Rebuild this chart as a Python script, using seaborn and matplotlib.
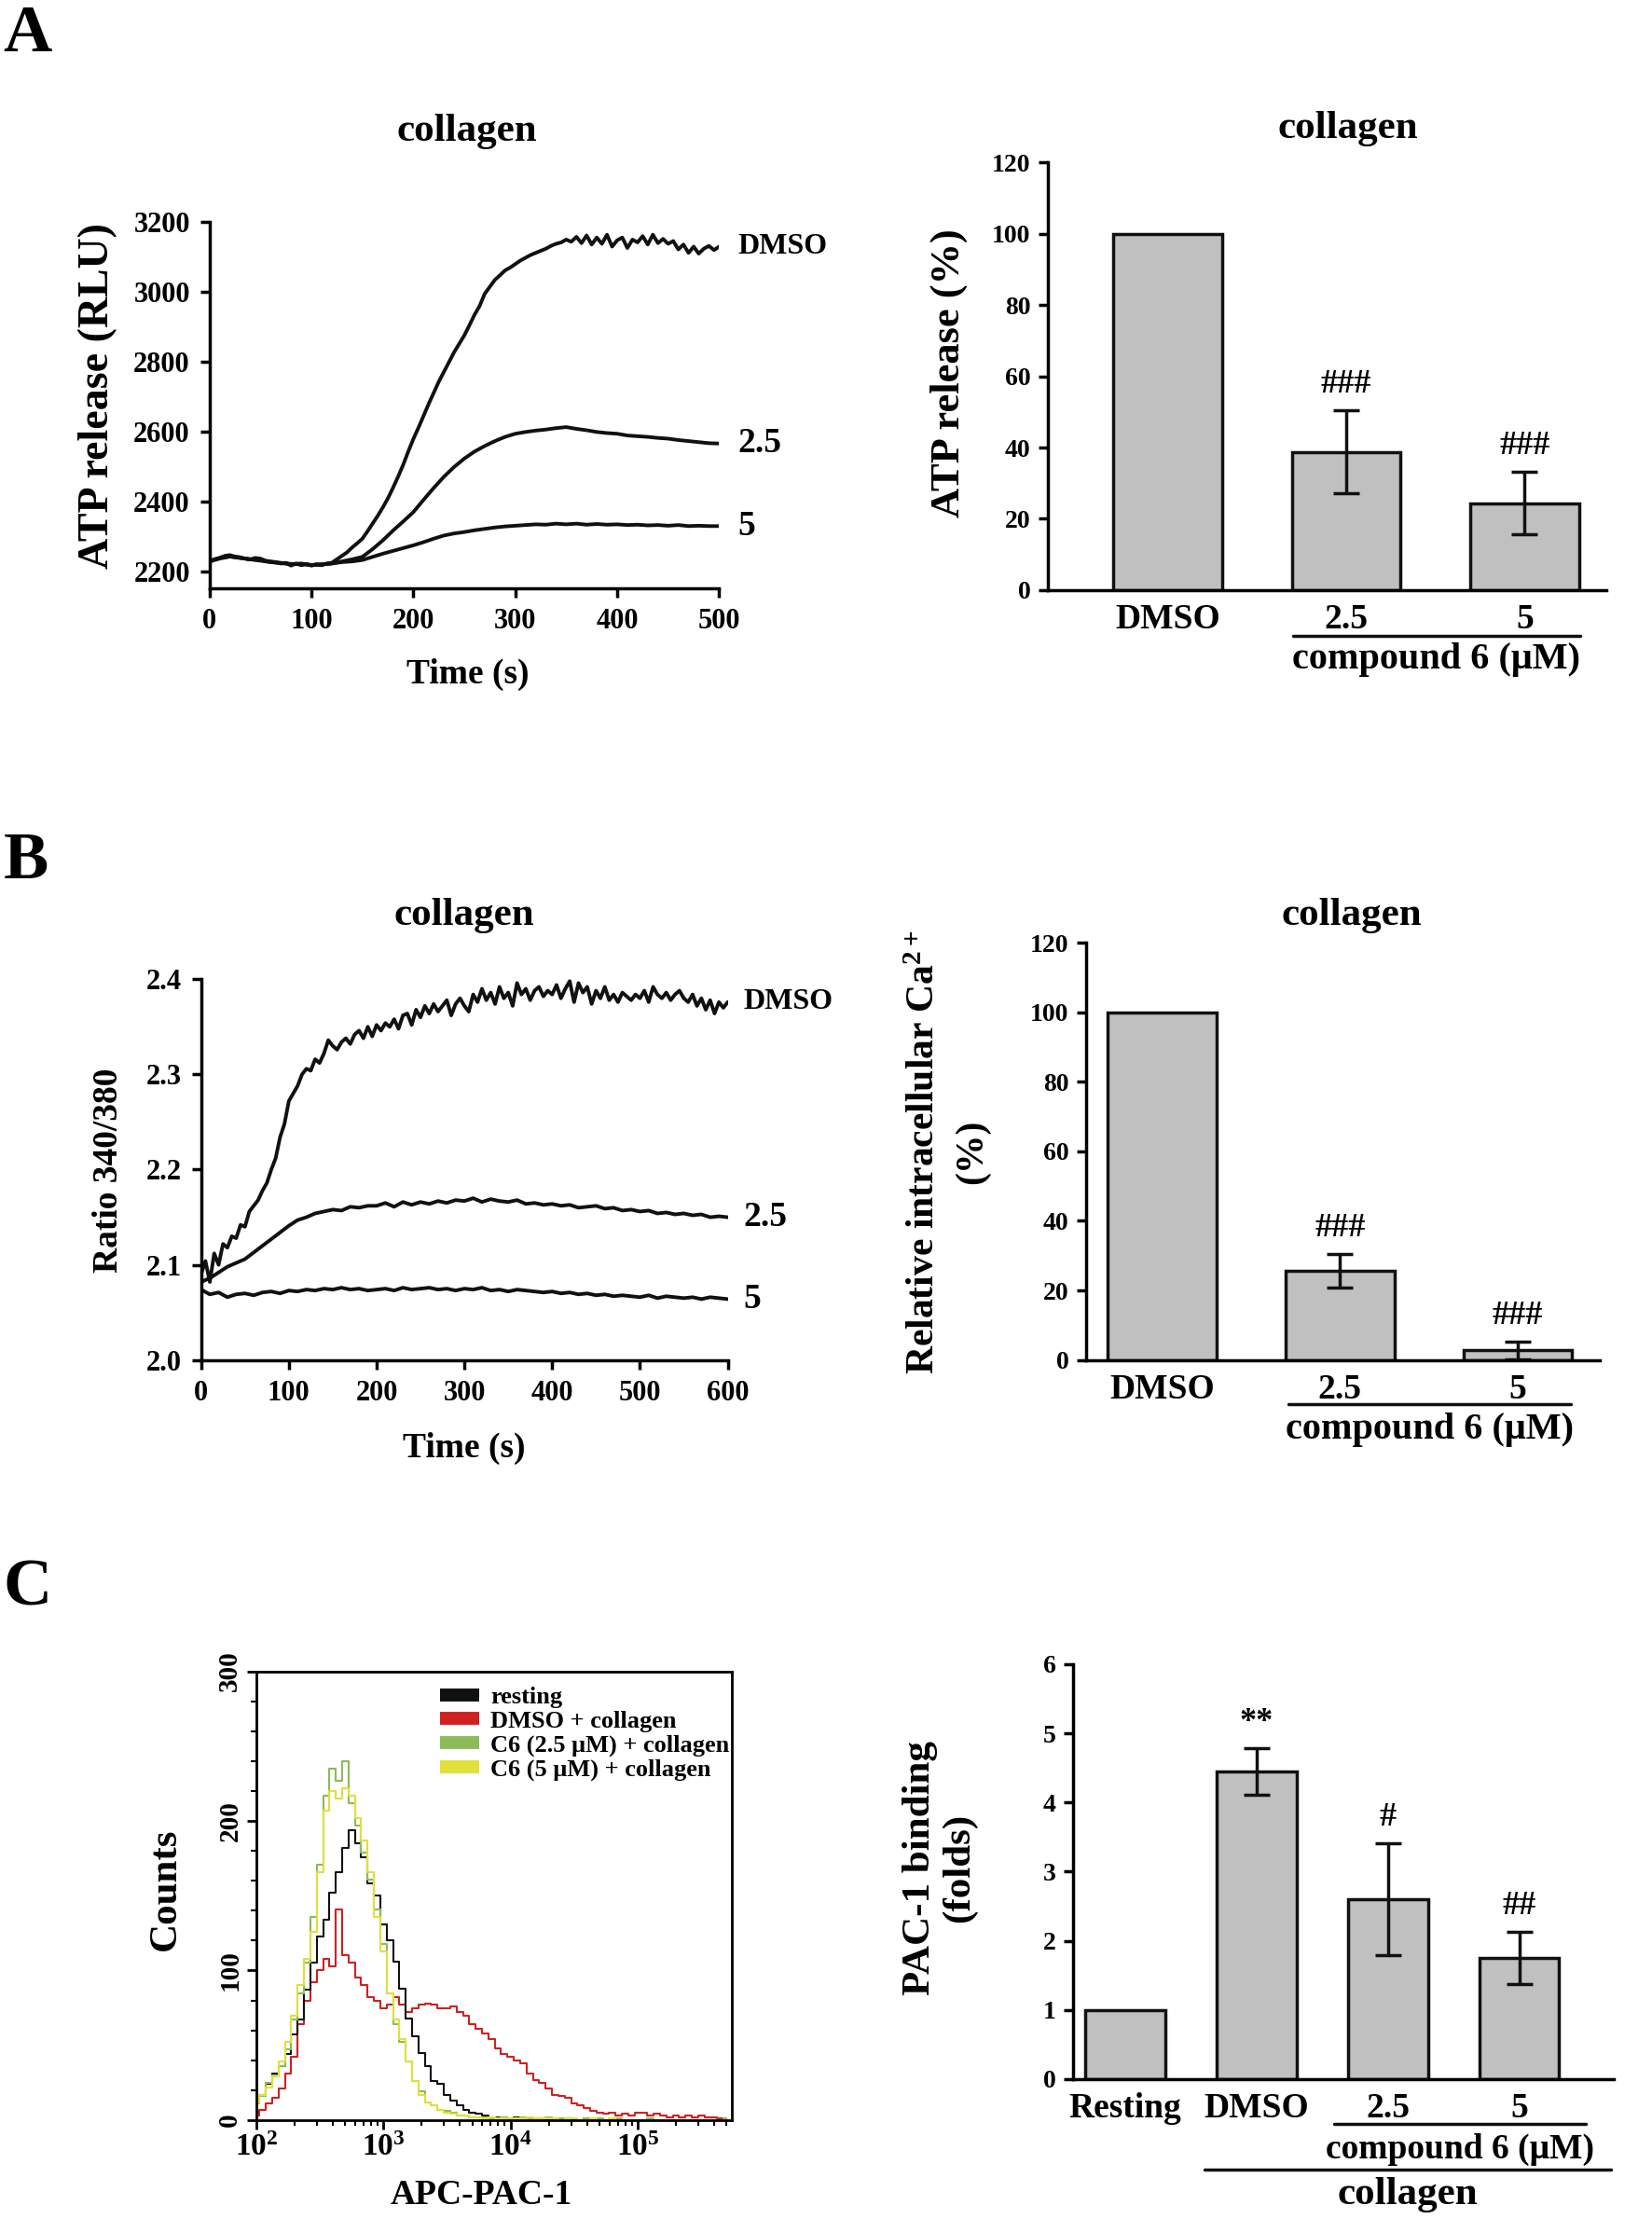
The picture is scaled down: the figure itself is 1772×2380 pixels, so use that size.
"""
Collagen-induced platelet responses: ATP release (A), Ca2+ mobilisation (B)
and PAC-1 binding (C) with compound 6.
Run: python plot.py  ->  out.png
"""

import numpy as np
import matplotlib
matplotlib.use("Agg")
import matplotlib.pyplot as plt
import matplotlib.ticker as mticker
import matplotlib.transforms as mtransforms
from matplotlib.lines import Line2D
import seaborn as sns

# ---------------------------------------------------------
# Data
# ---------------------------------------------------------
# A: ATP release traces (RLU); DMSO every 5 s, compound every 10 s
atp_t_dmso = np.arange(0, 501, 5)
atp_t_c = np.arange(0, 501, 10)
atp_dmso = [
    2228, 2236, 2240, 2246, 2248, 2244, 2242, 2238, 2236, 2240,
    2238, 2232, 2230, 2228, 2224, 2226, 2218, 2224, 2219, 2223,
    2218, 2222, 2219, 2224, 2226, 2236, 2246, 2256, 2270, 2282,
    2295, 2316, 2338, 2360, 2384, 2410, 2440, 2472, 2506, 2544,
    2580, 2612, 2646, 2680, 2712, 2744, 2772, 2800, 2828, 2852,
    2876, 2905, 2935, 2960, 2995, 3015, 3035, 3048, 3062, 3070,
    3080, 3090, 3098, 3106, 3112, 3118, 3124, 3132, 3138, 3142,
    3150, 3144, 3158, 3140, 3162, 3136, 3156, 3138, 3164, 3130,
    3148, 3156, 3126, 3150, 3142, 3160, 3136, 3164, 3140, 3152,
    3138, 3146, 3122, 3136, 3112, 3130, 3110, 3124, 3132, 3120,
    3130,
]
atp_c25 = [
    2230, 2238, 2244, 2240, 2236, 2232, 2228, 2226, 2223, 2222,
    2219, 2221, 2224, 2230, 2236, 2243, 2265, 2290, 2318, 2344,
    2371, 2406, 2440, 2472, 2500, 2524, 2544, 2560, 2574, 2586,
    2595, 2600, 2604, 2607, 2611, 2614, 2609, 2605, 2600, 2597,
    2595, 2590, 2588, 2586, 2583, 2581, 2577, 2574, 2571, 2568,
    2567,
]
atp_c5 = [
    2232, 2240, 2244, 2240, 2236, 2234, 2228, 2225, 2222, 2224,
    2220, 2222, 2224, 2228, 2230, 2234, 2243, 2252, 2260, 2268,
    2276, 2285, 2295, 2304, 2310, 2314, 2319, 2323, 2327, 2330,
    2332, 2334, 2336, 2335, 2338, 2336, 2338, 2335, 2337, 2335,
    2336, 2334, 2335, 2333, 2334, 2332, 2334, 2331, 2332, 2331,
    2331,
]
atp_groups = ["DMSO", "2.5", "5"]
atp_pct = [100, 38.8, 24.4]
atp_err = [0, 11.6, 8.8]
atp_marks = ["", "###", "###"]

# B: Fura-2 ratio traces; DMSO every 5 s, compound every 10 s
ca_t_dmso = np.arange(0, 601, 5)
ca_t_c = np.arange(0, 601, 10)
ca_dmso = [
    2.090, 2.104, 2.082, 2.112, 2.100, 2.122, 2.118, 2.130, 2.128, 2.142,
    2.140, 2.156, 2.162, 2.168, 2.178, 2.186, 2.200, 2.212, 2.234, 2.248,
    2.272, 2.280, 2.288, 2.300, 2.306, 2.304, 2.316, 2.312, 2.322, 2.336,
    2.330, 2.326, 2.334, 2.338, 2.332, 2.342, 2.346, 2.338, 2.350, 2.340,
    2.352, 2.346, 2.354, 2.350, 2.358, 2.348, 2.362, 2.364, 2.352, 2.368,
    2.360, 2.372, 2.364, 2.374, 2.366, 2.372, 2.378, 2.362, 2.374, 2.380,
    2.372, 2.366, 2.384, 2.376, 2.390, 2.378, 2.386, 2.374, 2.392, 2.380,
    2.386, 2.372, 2.396, 2.384, 2.390, 2.378, 2.388, 2.392, 2.382, 2.388,
    2.384, 2.394, 2.380, 2.390, 2.398, 2.376, 2.396, 2.386, 2.392, 2.374,
    2.388, 2.380, 2.392, 2.378, 2.384, 2.376, 2.386, 2.382, 2.378, 2.384,
    2.380, 2.388, 2.376, 2.392, 2.384, 2.380, 2.386, 2.378, 2.384, 2.388,
    2.380, 2.376, 2.384, 2.372, 2.380, 2.368, 2.378, 2.364, 2.376, 2.370,
    2.376,
]
ca_c25 = [
    2.082, 2.086, 2.092, 2.098, 2.102, 2.106, 2.113, 2.120, 2.127, 2.134,
    2.141, 2.147, 2.150, 2.154, 2.156, 2.158, 2.157, 2.161, 2.160, 2.162,
    2.162, 2.165, 2.161, 2.166, 2.163, 2.166, 2.164, 2.167, 2.165, 2.168,
    2.167, 2.170, 2.166, 2.169, 2.167, 2.166, 2.168, 2.164, 2.165, 2.163,
    2.164, 2.162, 2.163, 2.160, 2.161, 2.162, 2.159, 2.160, 2.157, 2.158,
    2.156, 2.157, 2.154, 2.155, 2.153, 2.154, 2.152, 2.153, 2.150, 2.151,
    2.150,
]
ca_c5 = [
    2.074, 2.069, 2.071, 2.066, 2.069, 2.070, 2.068, 2.071, 2.072, 2.070,
    2.073, 2.072, 2.074, 2.073, 2.075, 2.074, 2.076, 2.074, 2.075, 2.073,
    2.074, 2.075, 2.073, 2.076, 2.074, 2.075, 2.076, 2.074, 2.075, 2.073,
    2.075, 2.074, 2.076, 2.073, 2.074, 2.072, 2.074, 2.073, 2.072, 2.071,
    2.072, 2.070, 2.071, 2.069, 2.070, 2.068, 2.069, 2.067, 2.068, 2.067,
    2.066, 2.068, 2.065, 2.067, 2.066, 2.065, 2.066, 2.064, 2.066, 2.065,
    2.064,
]
ca_groups = ["DMSO", "2.5", "5"]
ca_pct = [100, 25.6, 2.8]
ca_err = [0, 4.9, 2.5]
ca_marks = ["", "###", "###"]

# C: flow cytometry histograms, channels 10^2 .. 10^5.7 (20 per decade)
pac_channel = 10 ** np.round(np.arange(2.0, 5.701, 0.05), 2)
pac_resting = [
    13, 17, 24, 31, 36, 44, 57, 67, 87, 105,
    123, 134, 152, 166, 182, 194, 185, 176, 158, 150,
    131, 120, 106, 88, 68, 56, 45, 36, 26, 24,
    17, 13, 10, 7, 5, 4, 3, 2, 2, 2,
    1, 2, 1, 1, 1, 1, 0, 1, 0, 1,
    0, 0, 1, 0, 0, 0, 0, 0, 0, 0,
    0, 0, 0, 0, 0, 0, 0, 0, 0, 0,
    0, 0, 0, 0, 0,
]
pac_dmso = [
    3, 7, 11, 15, 21, 31, 42, 64, 80, 92,
    100, 108, 103, 141, 110, 105, 95, 90, 82, 80,
    75, 77, 82, 77, 72, 75, 77, 78, 77, 75,
    75, 76, 72, 70, 64, 61, 58, 54, 48, 44,
    42, 40, 38, 31, 27, 25, 21, 17, 16, 15,
    11, 10, 8, 6, 5, 4, 5, 3, 4, 3,
    5, 5, 3, 4, 3, 2, 3, 2, 3, 2,
    3, 2, 2, 1, 1,
]
pac_c25 = [
    11, 16, 25, 30, 36, 47, 67, 85, 105, 136,
    171, 217, 235, 227, 240, 212, 197, 179, 161, 141,
    118, 85, 64, 52, 39, 26, 19, 12, 10, 7,
    6, 5, 3, 3, 2, 2, 2, 1, 1, 2,
    1, 1, 2, 1, 1, 1, 2, 1, 1, 1,
    1, 0, 1, 0, 1, 0, 0, 1, 0, 0,
    0, 0, 1, 0, 0, 0, 0, 0, 0, 0,
    0, 0, 0, 0, 1,
]
pac_c5 = [
    12, 17, 22, 29, 39, 52, 70, 90, 108, 126,
    166, 207, 220, 215, 222, 217, 202, 187, 166, 136,
    113, 85, 67, 54, 39, 26, 17, 12, 10, 7,
    5, 4, 3, 3, 2, 2, 1, 2, 1, 1,
    1, 1, 1, 2, 1, 1, 1, 1, 0, 1,
    1, 0, 0, 1, 0, 0, 1, 0, 0, 0,
    0, 0, 0, 0, 0, 0, 0, 0, 0, 0,
    0, 0, 0, 0, 0,
]
# events piled up in the first channel (spike on the left axis)
pac_first_channel = {"resting": 190, "C6 (5 μM) + collagen": 130}

pac_groups = ["Resting", "DMSO", "2.5", "5"]
pac_fold = [1.0, 4.45, 2.6, 1.75]
pac_err = [0, 0.34, 0.81, 0.38]
pac_marks = ["", "**", "#", "##"]

# ---------------------------------------------------------
# Style
# ---------------------------------------------------------
sns.set_style("ticks")
plt.rcParams.update({
    "font.family": ["Liberation Serif", "DejaVu Serif"],
    "font.weight": "bold",
    "axes.labelweight": "bold",
    "axes.titleweight": "bold",
    "mathtext.fontset": "custom",
    "mathtext.rm": "Liberation Serif:bold",
    "mathtext.bf": "Liberation Serif:bold",
    "mathtext.it": "Liberation Serif:bold",
    "mathtext.default": "bf",
    "text.color": "black",
    "axes.labelcolor": "black",
    "axes.edgecolor": "black",
    "xtick.color": "black",
    "ytick.color": "black",
    "axes.linewidth": 2.5,
    "xtick.major.width": 2.5,
    "ytick.major.width": 2.5,
    "xtick.major.size": 7,
    "ytick.major.size": 7,
})

INK = "#111111"
BAR_GREY = "#c0c0c0"
TICK_LINE = 22
TICK_BAR = 20
CAT = 27
YLAB = 32
XLAB = 27
TITLE = 31
MARK = 26
TRACE_LW = 2.8

fig = plt.figure(figsize=(17.72, 23.80), dpi=100)


def trace_axes(ax):
    sns.despine(ax=ax)
    ax.tick_params(labelsize=TICK_LINE, pad=8)


def bar_panel(ax, groups, vals, errs, marks, gap):
    sns.barplot(x=groups, y=vals, color=BAR_GREY, saturation=1, edgecolor=INK,
                linewidth=2.5, width=0.61, errorbar=None, ax=ax)
    pos = np.arange(len(groups))
    keep = [i for i, e in enumerate(errs) if e > 0]
    ax.errorbar(pos[keep], np.array(vals)[keep], yerr=np.array(errs)[keep],
                fmt="none", ecolor=INK, elinewidth=2.5, capsize=10, capthick=2.5)
    for i, m in enumerate(marks):
        if m:
            ax.text(i, vals[i] + errs[i] + gap, m, ha="center", va="bottom",
                    fontsize=MARK)
    sns.despine(ax=ax)
    ax.tick_params(axis="x", length=0, labelsize=CAT, pad=10)
    ax.tick_params(axis="y", labelsize=TICK_BAR, pad=6)


def group_line(ax, x0, x1, y, text, ty, fs):
    tr = mtransforms.blended_transform_factory(ax.transData, ax.transAxes)
    ax.add_line(Line2D([x0, x1], [y, y], color=INK, lw=2.5, transform=tr,
                       clip_on=False))
    ax.text((x0 + x1) / 2, ty, text, transform=tr, ha="center", va="center",
            fontsize=fs)


# ---------------------------------------------------------
# A left: ATP release traces
# ---------------------------------------------------------
ax = fig.add_axes([0.1268, 0.7347, 0.3085, 0.1652])
sns.lineplot(x=atp_t_dmso, y=atp_dmso, color=INK, lw=TRACE_LW, ax=ax)
sns.lineplot(x=atp_t_c, y=atp_c25, color=INK, lw=TRACE_LW, ax=ax)
sns.lineplot(x=atp_t_c, y=atp_c5, color=INK, lw=TRACE_LW, ax=ax)
ax.set_xlim(0, 500)
ax.set_ylim(2152, 3200)
ax.set_xticks(range(0, 501, 100))
ax.set_yticks(range(2200, 3201, 200))
trace_axes(ax)
for lab, series, fs in [("DMSO", atp_dmso, 23), ("2.5", atp_c25, 27), ("5", atp_c5, 27)]:
    ax.text(518, series[-1], lab, ha="left", va="center", fontsize=fs, clip_on=False)
ax.set_ylabel("ATP release (RLU)", fontsize=33)
ax.yaxis.set_label_coords(-0.181, 0.525)
ax.set_xlabel("Time (s)", fontsize=XLAB)
ax.xaxis.set_label_coords(0.506, -0.19)
ax.text(0.506, 1.247, "collagen", transform=ax.transAxes, ha="center",
        va="center", fontsize=TITLE)

# ---------------------------------------------------------
# A right: ATP release (%)
# ---------------------------------------------------------
ax = fig.add_axes([0.6341, 0.7341, 0.3385, 0.1926])
bar_panel(ax, atp_groups, atp_pct, atp_err, atp_marks, 3)
ax.set_xlim(-0.675, 2.46)
ax.set_ylim(0, 120)
ax.set_yticks(range(0, 121, 20))
ax.set_ylabel("ATP release (%)", fontsize=YLAB)
ax.yaxis.set_label_coords(-0.142, 0.507)
ax.text(0.5375, 1.08, "collagen", transform=ax.transAxes, ha="center",
        va="center", fontsize=TITLE)
group_line(ax, 0.70, 2.31, -0.107, "compound 6 (μM)", -0.163, 29)

# ---------------------------------------------------------
# B left: [Ca2+]i traces
# ---------------------------------------------------------
ax = fig.add_axes([0.1217, 0.3871, 0.3188, 0.1716])
sns.lineplot(x=ca_t_dmso, y=ca_dmso, color=INK, lw=TRACE_LW, ax=ax)
sns.lineplot(x=ca_t_c, y=ca_c25, color=INK, lw=TRACE_LW, ax=ax)
sns.lineplot(x=ca_t_c, y=ca_c5, color=INK, lw=TRACE_LW, ax=ax)
ax.set_xlim(0, 600)
ax.set_ylim(2.0, 2.4)
ax.set_xticks(range(0, 601, 100))
ax.set_yticks([2.0, 2.1, 2.2, 2.3, 2.4])
ax.yaxis.set_major_formatter(mticker.FormatStrFormatter("%.1f"))
trace_axes(ax)
for lab, series, fs in [("DMSO", ca_dmso, 23), ("2.5", ca_c25, 27), ("5", ca_c5, 27)]:
    ax.text(618, series[-1], lab, ha="left", va="center", fontsize=fs, clip_on=False)
ax.set_ylabel("Ratio 340/380", fontsize=27)
ax.yaxis.set_label_coords(-0.145, 0.498)
ax.set_xlabel("Time (s)", fontsize=XLAB)
ax.xaxis.set_label_coords(0.5, -0.19)
ax.text(0.5, 1.167, "collagen", transform=ax.transAxes, ha="center",
        va="center", fontsize=TITLE)

# ---------------------------------------------------------
# B right: relative [Ca2+]i (%)
# ---------------------------------------------------------
ax = fig.add_axes([0.6572, 0.3871, 0.3111, 0.1881])
bar_panel(ax, ca_groups, ca_pct, ca_err, ca_marks, 3)
ax.set_xlim(-0.43, 2.46)
ax.set_ylim(0, 120)
ax.set_yticks(range(0, 121, 20))
ax.set_ylabel("Relative intracellular Ca$^{2+}$\n(%)", fontsize=30,
              linespacing=1.45)
ax.yaxis.set_label_coords(-0.185, 0.498)
ax.text(0.518, 1.064, "collagen", transform=ax.transAxes, ha="center",
        va="center", fontsize=TITLE)
group_line(ax, 0.71, 2.30, -0.105, "compound 6 (μM)", -0.166, 29)

# ---------------------------------------------------------
# C left: PAC-1 histograms
# ---------------------------------------------------------
ax = fig.add_axes([0.1551, 0.0446, 0.2879, 0.2022])
hist_series = [
    ("DMSO + collagen", pac_dmso, "#d02020"),
    ("resting", pac_resting, INK),
    ("C6 (2.5 μM) + collagen", pac_c25, "#8cbb5a"),
    ("C6 (5 μM) + collagen", pac_c5, "#e0e03a"),
]
for name, counts, col in hist_series:
    sns.lineplot(x=pac_channel, y=counts, color=col, lw=1.5,
                 drawstyle="steps-mid", ax=ax)
    if name in pac_first_channel:
        ax.vlines(pac_channel[0], 0, pac_first_channel[name], color=col, lw=2.0)
ax.set_xscale("log")
ax.set_xlim(100, 5.5e5)
ax.set_ylim(0, 300)
ax.set_xticks([1e2, 1e3, 1e4, 1e5])
ax.set_xticklabels([r"$10^{2}$", r"$10^{3}$", r"$10^{4}$", r"$10^{5}$"])
ax.xaxis.set_minor_locator(mticker.LogLocator(base=10, subs=np.arange(2, 10)))
ax.xaxis.set_minor_formatter(mticker.NullFormatter())
ax.set_yticks([0, 100, 200, 300])
ax.yaxis.set_minor_locator(mticker.MultipleLocator(20))
ax.tick_params(axis="x", which="major", labelsize=24, width=2, length=7)
ax.tick_params(axis="y", which="major", labelsize=21, width=2, length=7)
ax.tick_params(axis="both", which="minor", width=1.5, length=4)
for lbl in ax.get_yticklabels():
    lbl.set_rotation(90)
    lbl.set_va("center")
for sp in ax.spines.values():
    sp.set_linewidth(2)
ax.set_ylabel("Counts", fontsize=31)
ax.yaxis.set_label_coords(-0.152, 0.514)
ax.set_xlabel("APC-PAC-1", fontsize=XLAB)
ax.xaxis.set_label_coords(0.473, -0.132)
legend_order = ["resting", "DMSO + collagen", "C6 (2.5 μM) + collagen",
                "C6 (5 μM) + collagen"]
colours = {name: col for name, _, col in hist_series}
handles = [Line2D([], [], color=colours[n], lw=10, solid_capstyle="butt")
           for n in legend_order]
ax.legend(handles, legend_order, loc="upper left", bbox_to_anchor=(0.355, 1.0),
          frameon=False, fontsize=19, handlelength=1.6, handletextpad=0.45,
          labelspacing=0.08, borderaxespad=0.2)

# ---------------------------------------------------------
# C right: PAC-1 binding (folds)
# ---------------------------------------------------------
ax = fig.add_axes([0.6495, 0.0631, 0.3273, 0.1869])
bar_panel(ax, pac_groups, pac_fold, pac_err, pac_marks, 0.15)
ax.set_xlim(-0.40, 3.72)
ax.set_ylim(0, 6)
ax.set_yticks(range(0, 7))
ax.set_ylabel("PAC-1 binding\n(folds)", fontsize=31, linespacing=1.1)
ax.yaxis.set_label_coords(-0.178, 0.508)
group_line(ax, 1.59, 3.51, -0.109, "compound 6 (μM)", -0.171, 27)
group_line(ax, 0.60, 3.70, -0.218, "collagen", -0.28, 31)

# ---------------------------------------------------------
# Panel letters
# ---------------------------------------------------------
for letter, y in [("A", 0.998), ("B", 0.625), ("C", 0.2975)]:
    fig.text(0.002, y, letter, ha="left", va="top", fontsize=52)

fig.savefig("out.png", dpi=100)
plt.close(fig)
